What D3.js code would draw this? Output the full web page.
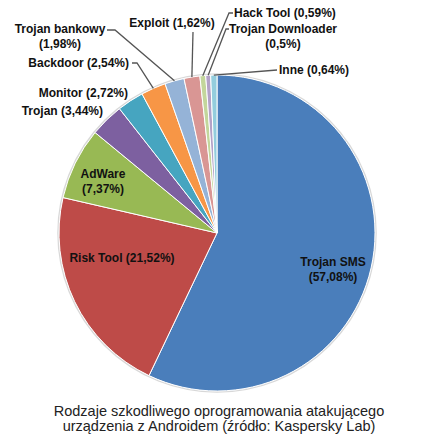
<!DOCTYPE html>
<html>
<head>
<meta charset="utf-8">
<script src="https://cdn.jsdelivr.net/npm/d3@7"></script>
<style>
  body { margin: 0; background: #fff; }
  svg text { font-family: "Liberation Sans", Arial, sans-serif; }
</style>
</head>
<body>
<div id="chart"></div>
<script>
// data
const categories = ["Trojan SMS", "Risk Tool", "AdWare", "Trojan", "Monitor", "Backdoor",
    "Trojan bankowy", "Exploit", "Hack Tool", "Trojan Downloader", "Inne"];
const values = [57.08, 21.52, 7.37, 3.44, 2.72, 2.54, 1.98, 1.62, 0.59, 0.5, 0.64];
const valueLabels = ["57,08%", "21,52%", "7,37%", "3,44%", "2,72%", "2,54%",
    "1,98%", "1,62%", "0,59%", "0,5%", "0,64%"];
const colors = ["#4a7ebb", "#be4b48", "#98b954", "#7d60a0", "#46a5c0", "#f79646",
    "#95b3d7", "#d99694", "#c3d69b", "#b3a2c7", "#93cddd"];
const titleLines = ["Rodzaje szkodliwego oprogramowania atakującego",
    "urządzenia z Androidem (źródło: Kaspersky Lab)"];

// label layout: lines, position, anchor, leader start (if any)
const labelLayout = [
    {lines: ["Trojan SMS", "(57,08%)"], x: 333, y: 266, anchor: "middle"},
    {lines: ["Risk Tool (21,52%)"], x: 122, y: 262, anchor: "middle"},
    {lines: ["AdWare", "(7,37%)"], x: 103, y: 178, anchor: "middle"},
    {lines: ["Trojan (3,44%)"], x: 103, y: 115, anchor: "end"},
    {lines: ["Monitor (2,72%)"], x: 128, y: 97, anchor: "end"},
    {lines: ["Backdoor (2,54%)"], x: 129, y: 67, anchor: "end", leader: [[132, 63], [137, 63]]},
    {lines: ["Trojan bankowy", "(1,98%)"], x: 60, y: 33, anchor: "middle", leader: [[107, 30], [115, 30]]},
    {lines: ["Exploit (1,62%)"], x: 172, y: 27, anchor: "middle", leader: [[193, 32]]},
    {lines: ["Hack Tool (0,59%)"], x: 234, y: 17, anchor: "start", leader: [[233, 13], [229, 13]]},
    {lines: ["Trojan Downloader", "(0,5%)"], x: 283, y: 33, anchor: "middle", leader: [[229, 29], [226, 29]]},
    {lines: ["Inne (0,64%)"], x: 279, y: 74, anchor: "start", leader: [[277, 70]]}
];

const width = 438, height = 445;
const cx = 217, cy = 233, radius = 158;

const svg = d3.select("#chart")
    .append("svg")
    .attr("width", width)
    .attr("height", height);

const pie = d3.pie().sort(null).value(d => d);
const arcs = pie(values);

const arc = d3.arc().innerRadius(0).outerRadius(radius);
const edge = d3.arc().innerRadius(radius).outerRadius(radius);

const g = svg.append("g").attr("transform", `translate(${cx},${cy})`);

// soft outline
g.append("circle")
    .attr("r", radius + 1)
    .attr("fill", "none")
    .attr("stroke", "#d8d8d8")
    .attr("stroke-width", 1.5);

g.selectAll(".slice")
    .data(arcs)
    .enter()
    .append("path")
    .attr("class", "slice")
    .attr("d", arc)
    .attr("fill", (d, i) => colors[i])
    .attr("stroke", "#fff")
    .attr("stroke-width", 1);

// leader lines
labelLayout.forEach((lab, i) => {
    if (!lab.leader) return;
    const end = edge.centroid(arcs[i]);
    const pts = lab.leader.concat([[end[0] + cx, end[1] + cy]]);
    svg.append("path")
        .attr("d", d3.line()(pts))
        .attr("fill", "none")
        .attr("stroke", "#555")
        .attr("stroke-width", 1.3);
});

// labels
labelLayout.forEach(lab => {
    const t = svg.append("text")
        .attr("x", lab.x)
        .attr("y", lab.y)
        .attr("text-anchor", lab.anchor)
        .attr("font-size", 12)
        .attr("font-weight", "bold")
        .attr("fill", "#111");
    lab.lines.forEach((line, j) => {
        t.append("tspan")
            .attr("x", lab.x)
            .attr("dy", j === 0 ? 0 : 15)
            .text(line);
    });
});

// title
svg.selectAll(".title")
    .data(titleLines)
    .enter()
    .append("text")
    .attr("class", "title")
    .attr("x", 219)
    .attr("y", (d, i) => 416 + i * 15)
    .attr("text-anchor", "middle")
    .attr("font-size", 14.5)
    .attr("fill", "#222")
    .text(d => d);
</script>
</body>
</html>
